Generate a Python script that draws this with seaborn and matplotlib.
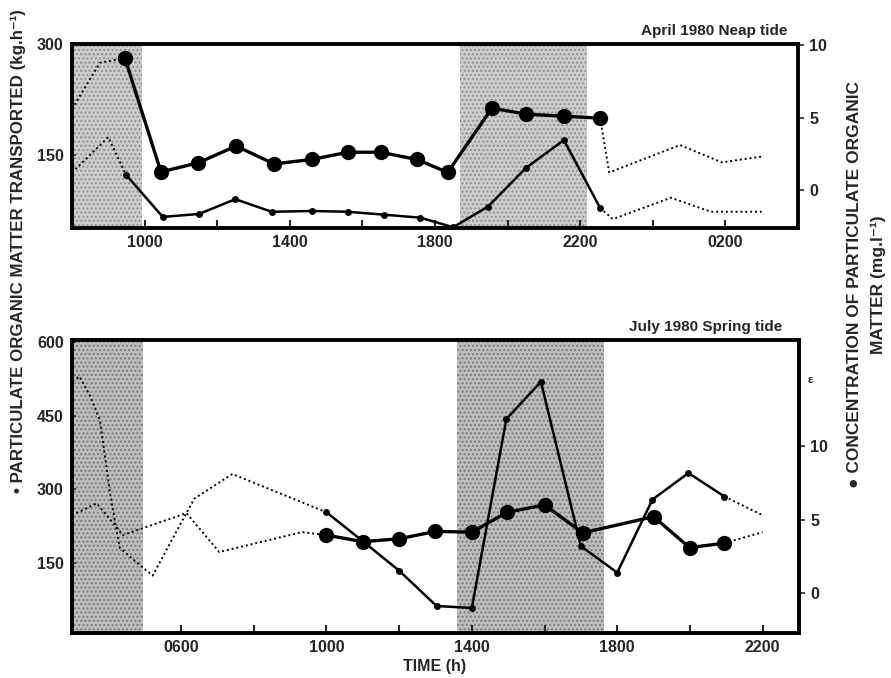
import matplotlib
matplotlib.use("Agg")
import matplotlib.pyplot as plt
import seaborn as sns
import pandas as pd

sns.set_theme(style="ticks")
plt.rcParams["font.family"] = ["Liberation Sans", "DejaVu Sans"]
plt.rcParams["font.weight"] = "bold"

# ---- April 1980, neap tide (time in decimal hours; >24 is the next day) ----
apr_trans_lead_t = [8.0, 9.0, 9.49]
apr_trans_lead_v = [126, 174, 123]
apr_trans_t = [9.49, 10.5, 11.5, 12.5, 13.5, 14.6, 15.6, 16.6, 17.6, 18.5, 19.46, 20.5, 21.55, 22.55]
apr_trans_v = [123, 66, 70, 90, 73, 74, 73, 69, 65, 52, 80, 132, 170, 78]
apr_trans_tail_t = [22.55, 22.9, 24.5, 25.6, 27.0]
apr_trans_tail_v = [78, 63, 92, 73, 73]

apr_conc_lead_t = [8.0, 8.77, 9.2, 9.46]
apr_conc_lead_v = [5.6, 8.8, 9.0, 9.1]
apr_conc_t = [9.46, 10.45, 11.47, 12.52, 13.57, 14.6, 15.6, 16.5, 17.5, 18.35, 19.57, 20.5, 21.55, 22.55]
apr_conc_v = [9.1, 1.24, 1.86, 3.03, 1.79, 2.1, 2.6, 2.6, 2.1, 1.2, 5.66, 5.24, 5.1, 4.96]
apr_conc_tail_t = [22.55, 22.8, 24.75, 25.9, 27.0]
apr_conc_tail_v = [4.96, 1.2, 3.1, 1.9, 2.3]

apr_dark = [(8.0, 9.93), (18.69, 22.19)]

# ---- July 1980, spring tide ----
jul_trans_lead_t = [3.02, 3.2, 3.5, 3.77, 4.04, 4.23, 4.32, 4.95, 5.22, 6.1, 6.37, 7.41, 10.0]
jul_trans_lead_v = [520, 530, 490, 440, 295, 214, 180, 140, 124, 245, 281, 331, 253]
jul_trans_t = [10.0, 11.0, 12.0, 13.03, 14.0, 14.95, 15.9, 17.0, 18.0, 18.97, 19.96, 20.95]
jul_trans_v = [253, 194, 134, 62, 58, 443, 519, 184, 130, 279, 333, 285]
jul_trans_tail_t = [20.95, 22.0]
jul_trans_tail_v = [285, 247]

jul_conc_lead_t = [3.0, 3.68, 4.12, 4.4, 6.15, 7.05, 9.33, 10.0]
jul_conc_lead_v = [5.3, 6.1, 4.8, 3.95, 5.44, 2.8, 4.15, 3.95]
jul_conc_t = [10.0, 11.0, 12.0, 13.0, 14.0, 14.97, 16.0, 17.05, 19.0, 19.99, 20.95]
jul_conc_v = [3.95, 3.5, 3.7, 4.2, 4.15, 5.5, 6.0, 4.1, 5.2, 3.1, 3.4]
jul_conc_tail_t = [20.95, 22.0]
jul_conc_tail_v = [3.4, 4.15]

jul_dark = [(3.0, 4.95), (13.58, 17.63)]

FS = 11.5
fig = plt.figure(figsize=(8.91, 6.78), dpi=100)
ax_top = fig.add_axes([0.0808, 0.6637, 0.8148, 0.2714])
ax_bot = fig.add_axes([0.0808, 0.0664, 0.8159, 0.4321])


def hour_label(h):
    return f"{int(h) % 24:02d}00"


def draw_line(ax, t, v, kind):
    df = pd.DataFrame({"t": t, "v": v})
    if kind == "dotted":
        sns.lineplot(data=df, x="t", y="v", ax=ax, sort=False, color="black",
                     linewidth=1.4, linestyle=(0, (1, 1.5)))
    elif kind == "small":
        sns.lineplot(data=df, x="t", y="v", ax=ax, sort=False, color="black",
                     linewidth=1.8, marker="o", markersize=5, markeredgewidth=0)
    else:
        sns.lineplot(data=df, x="t", y="v", ax=ax, sort=False, color="black",
                     linewidth=2.4, marker="o", markersize=11, markeredgewidth=0)


def style_panel(ax, ax2, xlim, ylim, yticks, ylim2, yticks2, xmaj, xall):
    ax.set_xlim(*xlim)
    ax.set_ylim(*ylim)
    ax2.set_ylim(*ylim2)
    ax.set_xticks(xall)
    ax.set_xticklabels([hour_label(h) if h in xmaj else "" for h in xall])
    ax.set_yticks(yticks)
    ax.set_yticklabels([str(y) for y in yticks])
    ax2.set_yticks(yticks2)
    ax2.set_yticklabels([str(y) for y in yticks2])
    for a in (ax, ax2):
        a.set_xlabel("")
        a.set_ylabel("")
        for s in a.spines.values():
            s.set_visible(True)
            s.set_linewidth(2.6)
            s.set_color("black")
    ax.tick_params(axis="x", direction="in", length=6, width=1.5, labelsize=FS, pad=5)
    ax.tick_params(axis="y", direction="in", length=3, width=1.2, labelsize=FS, pad=6)
    ax2.tick_params(axis="y", direction="out", length=4, width=1.2, labelsize=FS, pad=4)
    for lab in ax.get_xticklabels() + ax.get_yticklabels() + ax2.get_yticklabels():
        lab.set_fontweight("bold")


# ---- top panel ----
ax2_top = ax_top.twinx()
for a, b in apr_dark:
    ax_top.axvspan(a, b, facecolor="#cdcdcd", edgecolor="#909090", hatch="....",
                   linewidth=0, zorder=0)
draw_line(ax_top, apr_trans_lead_t, apr_trans_lead_v, "dotted")
draw_line(ax_top, apr_trans_tail_t, apr_trans_tail_v, "dotted")
draw_line(ax_top, apr_trans_t, apr_trans_v, "small")
draw_line(ax2_top, apr_conc_lead_t, apr_conc_lead_v, "dotted")
draw_line(ax2_top, apr_conc_tail_t, apr_conc_tail_v, "dotted")
draw_line(ax2_top, apr_conc_t, apr_conc_v, "big")
style_panel(ax_top, ax2_top, (8, 28), (51, 300), [150, 300], (-2.65, 10.1), [0, 5, 10],
            [10, 14, 18, 22, 26], [10, 12, 14, 16, 18, 20, 22, 24, 26])
ax_top.text(0.985, 1.035, "April 1980 Neap tide", transform=ax_top.transAxes,
            ha="right", va="bottom", fontsize=11, fontweight="bold")

# ---- bottom panel ----
ax2_bot = ax_bot.twinx()
for a, b in jul_dark:
    ax_bot.axvspan(a, b, facecolor="#bdbdbd", edgecolor="#7a7a7a", hatch="....",
                   linewidth=0, zorder=0)
draw_line(ax_bot, jul_trans_lead_t, jul_trans_lead_v, "dotted")
draw_line(ax_bot, jul_trans_tail_t, jul_trans_tail_v, "dotted")
draw_line(ax_bot, jul_trans_t, jul_trans_v, "small")
draw_line(ax2_bot, jul_conc_lead_t, jul_conc_lead_v, "dotted")
draw_line(ax2_bot, jul_conc_tail_t, jul_conc_tail_v, "dotted")
draw_line(ax2_bot, jul_conc_t, jul_conc_v, "big")
style_panel(ax_bot, ax2_bot, (3, 23), (7, 604), [150, 300, 450, 600], (-2.7, 17.2), [0, 5, 10],
            [6, 10, 14, 18, 22], [6, 8, 10, 12, 14, 16, 18, 20, 22])
ax_bot.text(0.977, 1.02, "July 1980 Spring tide", transform=ax_bot.transAxes,
            ha="right", va="bottom", fontsize=11, fontweight="bold")
ax2_bot.text(1.012, 0.865, "ε", transform=ax2_bot.transAxes, ha="left", va="center",
             fontsize=8, fontweight="bold")

# ---- shared labels ----
fig.text(0.488, 0.017, "TIME (h)", ha="center", va="center", fontsize=FS, fontweight="bold")
fig.text(0.021, 0.63, "• PARTICULATE ORGANIC MATTER TRANSPORTED (kg.h⁻¹)",
         rotation=90, ha="center", va="center", fontsize=12.2, fontweight="bold")
fig.text(0.9725, 0.58, "● CONCENTRATION OF PARTICULATE ORGANIC\nMATTER (mg.l⁻¹)",
         rotation=90, ha="center", va="center", multialignment="center",
         fontsize=12.5, fontweight="bold", linespacing=1.7)

fig.savefig("out.png", dpi=100)
